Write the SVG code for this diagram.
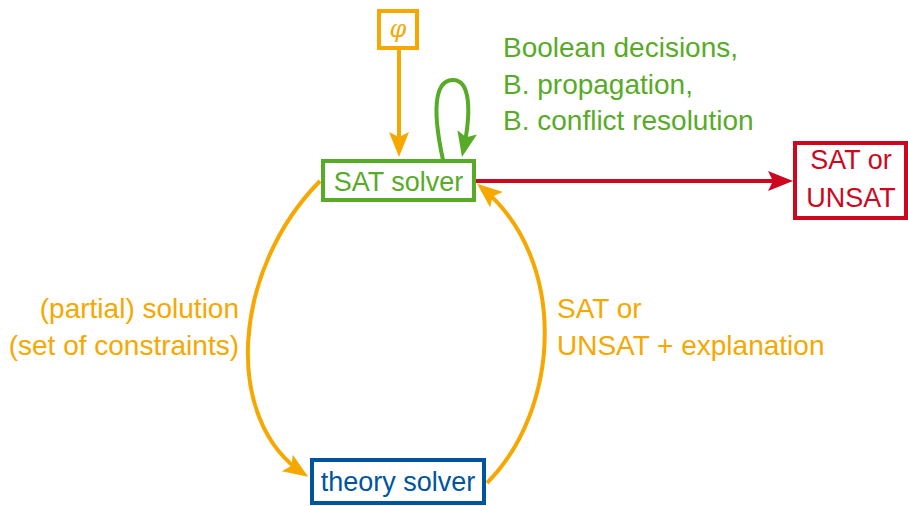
<svg xmlns="http://www.w3.org/2000/svg" width="908" height="506" viewBox="0 0 908 506">
<style>
  text { font-family: "Liberation Sans", Arial, sans-serif; font-size: 27px; }
  .lab { font-size: 28px; }
  .or { fill: #F6A800; }
  .gr { fill: #57AB27; }
  .rd { fill: #CC071E; }
  .bl { fill: #00549F; }
  .box { fill: #fff; stroke-width: 4; }
  .edge { fill: none; stroke-width: 4; }
</style>
<defs>
  <marker id="ao" markerUnits="userSpaceOnUse" markerWidth="30" markerHeight="30" viewBox="-2 -12 30 24" refX="20" refY="0" orient="auto" overflow="visible">
    <path d="M25,0 L0,-10 L5,0 L0,10 Z" fill="#F6A800"/>
  </marker>
  <marker id="ag" markerUnits="userSpaceOnUse" markerWidth="30" markerHeight="30" viewBox="-2 -12 30 24" refX="20" refY="0" orient="auto" overflow="visible">
    <path d="M25,0 L0,-10 L5,0 L0,10 Z" fill="#57AB27"/>
  </marker>
  <marker id="ar" markerUnits="userSpaceOnUse" markerWidth="30" markerHeight="30" viewBox="-2 -12 30 24" refX="20" refY="0" orient="auto" overflow="visible">
    <path d="M25,0 L0,-10 L5,0 L0,10 Z" fill="#CC071E"/>
  </marker>
</defs>
<rect width="908" height="506" fill="#fff"/>
<g id="connectors">
  <path class="edge" stroke="#F6A800" d="M399,50 L399,152" marker-end="url(#ao)"/>
  <path class="edge" stroke="#57AB27" d="M443,160 C430,100 438,80 453,80 C470,80 472,110 463,152" marker-end="url(#ag)"/>
  <path class="edge" stroke="#CC071E" d="M476,181 L788,181" marker-end="url(#ar)"/>
  <path class="edge" stroke="#F6A800" d="M320,181 C232,270 222,420 304,474" marker-end="url(#ao)"/>
  <path class="edge" stroke="#F6A800" d="M487,483 C560,410 570,260 481,187" marker-end="url(#ao)"/>
</g>
<g id="phi">
  <rect class="box" stroke="#F6A800" x="379" y="11" width="38" height="37"/>
  <text class="or" x="398" y="37" text-anchor="middle" style="font-family:'DejaVu Serif',serif;font-style:italic;font-size:24px">φ</text>
</g>
<g id="sat-solver">
  <rect class="box" stroke="#57AB27" x="323" y="161" width="151" height="39"/>
  <text class="gr" x="398.5" y="191" text-anchor="middle">SAT solver</text>
</g>
<g id="result">
  <rect class="box" stroke="#CC071E" x="795" y="143" width="111" height="75"/>
  <text class="rd" x="851" y="169" text-anchor="middle">SAT or</text>
  <text class="rd" x="851" y="207" text-anchor="middle">UNSAT</text>
</g>
<g id="theory-solver">
  <rect class="box" stroke="#00549F" x="312" y="460" width="172" height="43"/>
  <text class="bl" x="398" y="491" text-anchor="middle">theory solver</text>
</g>
<g id="labels">
  <text class="gr lab" x="503" y="57">Boolean decisions,</text>
  <text class="gr lab" x="503" y="94">B. propagation,</text>
  <text class="gr lab" x="503" y="130">B. conflict resolution</text>
  <text class="or lab" x="239" y="318" text-anchor="end">(partial) solution</text>
  <text class="or lab" x="239" y="355" text-anchor="end">(set of constraints)</text>
  <text class="or lab" x="557" y="318">SAT or</text>
  <text class="or lab" x="557" y="355">UNSAT + explanation</text>
</g>
</svg>
